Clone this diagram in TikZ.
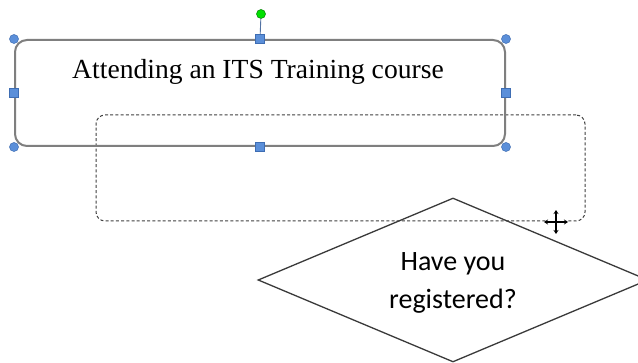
\documentclass[tikz,border=0pt]{standalone}
\usepackage{fontspec}
\setmainfont{Liberation Serif}
\newfontfamily\calfont{Carlito}
\usetikzlibrary{shapes.geometric,arrows.meta}
\definecolor{handleblue}{HTML}{5B8FD9}
\definecolor{handleedge}{HTML}{3E6DB3}
\definecolor{rotgreen}{HTML}{00E000}
\definecolor{boxgray}{HTML}{7F7F7F}
\definecolor{dashgray}{HTML}{404040}
\definecolor{diagray}{HTML}{3A3A3A}
\tikzset{
  mainbox/.style={draw=boxgray, line width=2pt, rounded corners=12pt, minimum width=490pt, minimum height=106pt, inner sep=0pt},
  ghostbox/.style={draw=dashgray, line width=1pt, dash pattern=on 3pt off 2.2pt, rounded corners=9pt, minimum width=489pt, minimum height=106pt, inner sep=0pt},
  decision/.style={draw=diagray, line width=1.3pt, diamond, aspect=2.38, minimum width=390pt, minimum height=164pt, inner sep=0pt},
  dectextstyle/.style={align=center, inner sep=0pt, font=\calfont\fontsize{28}{38}\selectfont},
  cornerhandle/.style={circle, fill=handleblue, draw=handleedge, line width=0.5pt, minimum size=9pt, inner sep=0pt},
  sidehandle/.style={rectangle, fill=handleblue, draw=handleedge, line width=0.5pt, minimum size=9pt, inner sep=0pt},
  rothandle/.style={circle, fill=rotgreen, draw=green!50!black, line width=0.5pt, minimum size=9pt, inner sep=0pt},
  titletext/.style={font=\fontsize{27.6}{32}\selectfont, inner sep=0pt},
  cursorline/.style={line width=1.4pt, {Stealth[length=4pt,width=5pt]}-{Stealth[length=4pt,width=5pt]}},
}
\begin{document}
\begin{tikzpicture}[x=1pt,y=-1pt]
\useasboundingbox[fill=white] (0,0) rectangle (638,363);
% ghost (dashed) box
\node[ghostbox] (ghost) at (340.5,168) {};
% decision diamond
\node[decision] (dec) at (453,280) {};
\node[dectextstyle] (dectext) at (453,283) {Have you\\registered?};
% main box
\node[mainbox] (title) at (260,93) {};
\node[titletext] (ttext) at (258,72) {Attending an ITS Training course};
% rotation handle
\node[rothandle] (rot) at (261,14) {};
\draw[handleedge!70!gray, line width=0.9pt] (rot) -- (title.north);
% side handles
\node[sidehandle] (hn) at (title.north) {};
\node[sidehandle] (hs) at (title.south) {};
\node[sidehandle] (hw) at (title.west) {};
\node[sidehandle] (he) at (title.east) {};
% corner handles
\node[cornerhandle] (hnw) at (title.north west) {};
\node[cornerhandle] (hne) at (title.north east) {};
\node[cornerhandle] (hsw) at (title.south west) {};
\node[cornerhandle] (hse) at (title.south east) {};
% move cursor
\coordinate (cl) at (544,222);
\coordinate (cr) at (568,222);
\coordinate (ct) at (556,210);
\coordinate (cb) at (556,234);
\draw[cursorline, white, line width=3pt] (cl) -- (cr);
\draw[cursorline, white, line width=3pt] (ct) -- (cb);
\draw[cursorline, black] (cl) -- (cr);
\draw[cursorline, black] (ct) -- (cb);
\end{tikzpicture}
\end{document}
